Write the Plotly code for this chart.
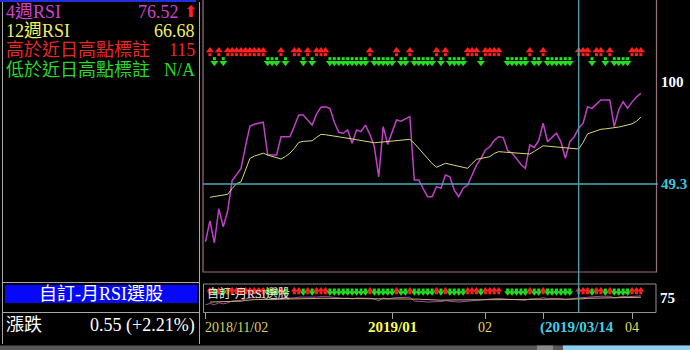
import plotly.graph_objects as go
import pandas as pd

W, H = 690, 350

# ---------------- data ----------------
TW_HOLIDAYS = ["2019-01-01", "2019-01-31", "2019-02-01", "2019-02-04", "2019-02-05",
               "2019-02-06", "2019-02-07", "2019-02-08", "2019-02-28", "2019-03-01"]
dates = [d.strftime("%Y-%m-%d") for d in
         pd.bdate_range("2018-11-02", "2019-04-03", freq="C", holidays=TW_HOLIDAYS)]

rsi4 = [20.6, 31, 20, 37, 28, 36, 51, 54, 57, 68,
        78, 79, 79.5, 80, 63.7, 63.7, 63.7, 72.8, 72.8, 72.8,
        78, 83.6, 83.6, 81, 78.6, 84, 87.5, 87.7, 86.9, 80,
        75, 74.5, 76.1, 69.5, 76.1, 75.3, 78.6, 74, 67.8, 52.9,
        77.8, 69, 75, 81.1, 80.5, 81.5, 82.8, 51.3, 51.3, 47,
        43, 43, 48, 47.2, 53.8, 52.9, 46.3, 43, 47.2, 48.8,
        54, 58.7, 62, 66.2, 67.8, 71, 72.8, 72.5, 66, 64.6,
        62, 59, 57.1, 68.7, 67.5, 71, 79.5, 70.3, 72.5, 74.5,
        70.3, 62.1, 70.3, 72.8, 77, 79.5, 87.7, 86.9, 89, 91.1,
        91.1, 91.1, 77.8, 86.1, 90.2, 87, 90, 92.5, 94.4]

rsi12 = [None, 42.7, 43, 43.4, 43.8, 44.2, 47, 49.5, 50.4, 56,
         62, 63.2, 64, 64.6, 63.7, 63, 62.3, 61.7, 63, 64.6,
         67, 70, 70.5, 70.6, 70.8, 72.5, 74, 73.8, 73.5, 73.2,
         72.8, 72.5, 72.1, 71.7, 71.3, 70.9, 70.5, 70.1, 69.8, 70,
         70.2, 70.4, 70.7, 70.9, 71.1, 71.3, 71.5, 69.5, 67, 64.5,
         62, 59.5, 57.6, 58.6, 59.6, 59.1, 58.6, 58.1, 57.6, 57.1,
         59.5, 61.6, 62, 62.5, 62.9, 64.5, 65.4, 65.2, 65, 64.9,
         64.7, 64.5, 64.3, 64.2, 65.5, 67, 68.3, 68.1, 67.9, 67.7,
         67.5, 67.2, 67, 66.8, 66.7, 70, 74.2, 75, 75.8, 76.5,
         76.7, 76.9, 77.1, 77.6, 78.1, 78.6, 79.2, 80.5, 82.5]

# "+" above recent high (red), "-" below recent high (green), "0" none
signal = ("0" "+-+-" "+++++++++" "---" "+" "-" "0" "++" "-" "+" "-" "+++"
          "---------" "+" "-----" "+" "--" "+" "-----" "+" "-" "+" "----" "+++"
          "-" "++++" "0" "-----" "+" "--" "+" "------" "0" "+++" "-" "++" "-"
          "+" "----" "+++")

ref_level = 49.3
cursor_date = "2019-03-14"
tick_dates = ["2018-11-02", "2019-01-02", "2019-02-11", "2019-03-04", "2019-04-01"]
tick_texts = ["2018/11/02", "<b>2019/01</b>", "02", "<b>(2019/03/14</b>", "04"]
tick_colors = ["#d8d060", "#ffff50", "#e0d860", "#40d0e8", "#e0d860"]

panel_rows = [("4週RSI", "76.52", "#d040d0"),
              ("12週RSI", "66.68", "#f0f060"),
              ("高於近日高點標註", "115", "#e82828"),
              ("低於近日高點標註", "N/A", "#28d828")]
change_label, change_value = "漲跌", "0.55 (+2.21%)"
screen_name = "自訂-月RSI選股"

# ---------------- layout helpers ----------------
def px(p):
    return p / W

def py(p):
    return 1 - p / H

RED, GREEN = "#ff2020", "#22dd22"
SERIF = "Liberation Serif, Noto Sans CJK TC, serif"

up_x = [d for d, s in zip(dates, signal) if s == "+"]
dn_x = [d for d, s in zip(dates, signal) if s == "-"]

fig = go.Figure()

def arrows(xs, head_y, stem_y, symbol, color, size, stem, xa, ya):
    fig.add_trace(go.Scatter(x=xs, y=[stem_y] * len(xs), mode="markers",
                             marker=dict(symbol="square", size=stem, color=color, line=dict(width=0)),
                             xaxis=xa, yaxis=ya, hoverinfo="skip"))
    fig.add_trace(go.Scatter(x=xs, y=[head_y] * len(xs), mode="markers",
                             marker=dict(symbol=symbol, size=size, color=color, line=dict(width=0)),
                             xaxis=xa, yaxis=ya, hoverinfo="skip"))

# main chart
fig.add_trace(go.Scatter(x=dates, y=rsi4, mode="lines", line=dict(color="#c040c8", width=1.5),
                         xaxis="x", yaxis="y", hoverinfo="skip"))
fig.add_trace(go.Scatter(x=dates, y=rsi12, mode="lines", line=dict(color="#d8d878", width=1),
                         xaxis="x", yaxis="y", hoverinfo="skip"))
arrows(up_x, 115.6, 113.6, "triangle-up", RED, 7, 3, "x", "y")
arrows(dn_x, 109.6, 111.6, "triangle-down", GREEN, 7, 3, "x", "y")
# mini chart
fig.add_trace(go.Scatter(x=dates, y=rsi4, mode="lines", line=dict(color="#a050a8", width=1),
                         xaxis="x2", yaxis="y2", hoverinfo="skip"))
fig.add_trace(go.Scatter(x=dates, y=rsi12, mode="lines", line=dict(color="#c8b070", width=1),
                         xaxis="x2", yaxis="y2", hoverinfo="skip"))
arrows(up_x, 143, 120, "triangle-up", RED, 6, 3, "x2", "y2")
arrows(dn_x, 120, 143, "triangle-down", GREEN, 6, 3, "x2", "y2")

xr = [-0.56, 101.4]
shapes = []
# left panel frame
GRAY = "#a8a8a8"
shapes.append(dict(type="rect", xref="paper", yref="paper", x0=0, x1=px(196), y0=py(2), y1=py(0),
                   fillcolor="#2030e0", line=dict(width=0), layer="below"))
for xx in (2.5, 199.5):
    shapes.append(dict(type="line", xref="paper", yref="paper", x0=px(xx), x1=px(xx),
                       y0=py(344), y1=py(2), line=dict(color=GRAY, width=1)))
for yy in (282.5, 312.5):
    shapes.append(dict(type="line", xref="paper", yref="paper", x0=px(2.5), x1=px(199.5),
                       y0=py(yy), y1=py(yy), line=dict(color=GRAY, width=1)))
shapes.append(dict(type="rect", xref="paper", yref="paper", x0=px(5), x1=px(197), y0=py(303), y1=py(285),
                   fillcolor="#0808f8", line=dict(width=0)))
# main panel border
MAUVE = "#9c6e80"
shapes.append(dict(type="rect", xref="paper", yref="paper", x0=px(203), x1=px(656.5), y0=py(272), y1=py(-2),
                   line=dict(color=MAUVE, width=1.2)))
# mini panel border
shapes.append(dict(type="rect", xref="paper", yref="paper", x0=px(203.5), x1=px(656), y0=py(312.5), y1=py(284),
                   line=dict(color="#909090", width=1)))
# reference level line
shapes.append(dict(type="line", xref="paper", yref="y", x0=px(203), x1=px(658), y0=ref_level, y1=ref_level,
                   line=dict(color="#4aa8b4", width=1.3)))
# cursor line
ci = dates.index(cursor_date)
shapes.append(dict(type="line", xref="x", yref="paper", x0=ci, x1=ci, y0=py(313), y1=py(0),
                   line=dict(color="#4aa8b4", width=1.3)))
# bottom status bar
shapes.append(dict(type="rect", xref="paper", yref="paper", x0=0, x1=1, y0=0, y1=py(345.5),
                   fillcolor="#585858", line=dict(width=0)))
shapes.append(dict(type="rect", xref="paper", yref="paper", x0=px(537), x1=px(553), y0=0, y1=py(345.5),
                   fillcolor="#8a8a8a", line=dict(width=0)))
shapes.append(dict(type="rect", xref="paper", yref="paper", x0=px(563), x1=1, y0=0, y1=py(345.5),
                   fillcolor="#8cd0f0", line=dict(width=0)))

ann = []
def text(t, x, y, color, size=18, anchor="left", bold=False, xref="paper", yref="paper", family=SERIF):
    ann.append(dict(text=f"<b>{t}</b>" if bold else t, x=x, y=y, xref=xref, yref=yref,
                    xanchor=anchor, yanchor="middle", showarrow=False,
                    font=dict(family=family, size=size, color=color)))

row_y = [12.5, 31.5, 50, 70]
for (lab, val, col), yy in zip(panel_rows, row_y):
    text(lab, px(4), py(yy), col)
    text(val, px(181 if lab == "4週RSI" else 197), py(yy), col, anchor="right")
text("⬆", px(182), py(12), RED, size=16, family="DejaVu Sans")
text(screen_name, px(101), py(294), "#ffffff", anchor="center")
text(change_label, px(4), py(325), "#ffffff")
text(change_value, px(197), py(325), "#ffffff", anchor="right")
text(screen_name, px(205), py(293), "#e8e8e8", size=12)

text("100", px(659), 100, "#ffffff", size=15, bold=True, yref="y")
text(f"{ref_level}", px(659), ref_level, "#3cc8dc", size=15, bold=True, yref="y")
text("75", px(658), py(298), "#ffffff", size=15, bold=True)

for d, t, c in zip(tick_dates, tick_texts, tick_colors):
    if d == tick_dates[0]:
        ann.append(dict(text=t, x=d, y=py(327), xref="x2", yref="paper", xanchor="left", yanchor="middle",
                        xshift=-2, showarrow=False, font=dict(family=SERIF, size=14, color=c)))
    elif d == "2019-03-04":
        ann.append(dict(text=t, x=cursor_date, y=py(327), xref="x2", yref="paper", xanchor="center",
                        yanchor="middle", xshift=-2, showarrow=False, font=dict(family=SERIF, size=15, color=c)))
    else:
        ann.append(dict(text=t, x=d, y=py(327), xref="x2", yref="paper", xanchor="center", yanchor="middle",
                        showarrow=False, font=dict(family=SERIF, size=15 if "<b>" in t else 14, color=c)))

fig.update_layout(
    width=W, height=H, margin=dict(l=0, r=0, t=0, b=0),
    paper_bgcolor="#000000", plot_bgcolor="#000000", showlegend=False,
    xaxis=dict(type="category", domain=[px(203), px(656)], range=xr, visible=False, anchor="y"),
    yaxis=dict(domain=[py(272), 1], range=[5.57, 140.75], visible=False, anchor="x"),
    xaxis2=dict(type="category", domain=[px(203), px(656)], range=xr, anchor="y2",
                showgrid=False, zeroline=False, showline=False, showticklabels=False,
                ticks="outside", ticklen=6, tickcolor="#a0a0a0", tickwidth=1,
                tickvals=tick_dates),
    yaxis2=dict(domain=[py(312), py(284)], range=[-40, 193], visible=False, anchor="x2"),
    shapes=shapes, annotations=ann,
)

fig.write_html("out.html", config={"displayModeBar": False})
